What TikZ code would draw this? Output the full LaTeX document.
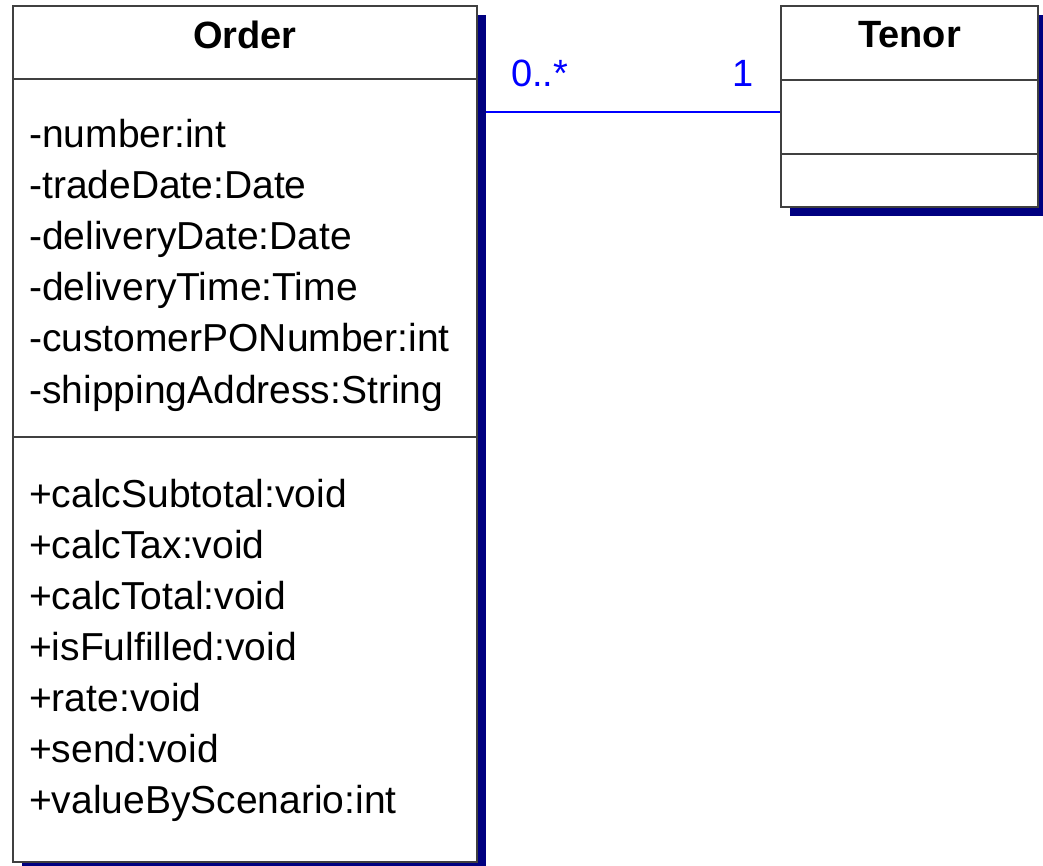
\documentclass[tikz,border=0pt]{standalone}
\usepackage{fontspec}
\setmainfont{Liberation Sans}
\usetikzlibrary{positioning}
\definecolor{shadownavy}{RGB}{0,0,128}
\definecolor{linkblue}{RGB}{0,0,255}

\begin{document}
\begin{tikzpicture}[x=1pt, y=-1pt,
        classbox/.style={draw=black!75, line width=1.5pt, fill=white, inner sep=0pt},
        shadowbox/.style={fill=shadownavy, draw=none, inner sep=0pt},
        member/.style={anchor=base west, inner sep=0pt, font=\fontsize{39}{46}\selectfont},
        title/.style={anchor=base, inner sep=0pt, font=\fontsize{38}{46}\selectfont\bfseries},
        mult/.style={anchor=base west, inner sep=0pt, text=linkblue, font=\fontsize{38}{46}\selectfont}
      ]
        \useasboundingbox (0,0) rectangle (1043,865);
        % association first, the shadow covers its end
        \coordinate (link) at (0,112);
        \node[shadowbox, minimum width=464pt, minimum height=856pt] (ordershadow) at (254,443) {};
        \node[shadowbox, minimum width=257pt, minimum height=201pt] (tenorshadow) at (918.5,115.5) {};
        \node[classbox, minimum width=464pt, minimum height=856pt] (order) at (245,434) {};
        \node[classbox, minimum width=257pt, minimum height=201pt] (tenor) at (909.5,106.5) {};
        \draw[linkblue, line width=1.3pt] (ordershadow.east |- link) -- (tenor.west |- link);
        \node[mult] (many) at (511,86) {0..*};
        \node[mult] (one) at (732,86) {1};

        % Order
        \node[title] (ordername) at (245,48) {Order};
        \draw[black!75, line width=1.5pt] (order.west |- 0,79) -- (order.east |- 0,79);
        \draw[black!75, line width=1.5pt] (order.west |- 0,437) -- (order.east |- 0,437);
        \node[member] (a1) at (29,147) {-number:int};
        \node[member] (a2) at (29,198.2) {-tradeDate:Date};
        \node[member] (a3) at (29,249.4) {-deliveryDate:Date};
        \node[member] (a4) at (29,300.6) {-deliveryTime:Time};
        \node[member] (a5) at (29,351.8) {-customerPONumber:int};
        \node[member] (a6) at (29,403) {-shippingAddress:String};
        \node[member] (m1) at (29,507) {+calcSubtotal:void};
        \node[member] (m2) at (29,558) {+calcTax:void};
        \node[member] (m3) at (29,609) {+calcTotal:void};
        \node[member] (m4) at (29,660) {+isFulfilled:void};
        \node[member] (m5) at (29,711) {+rate:void};
        \node[member] (m6) at (29,762) {+send:void};
        \node[member] (m7) at (29,813) {+valueByScenario:int};

        % Tenor
        \node[title] (tenorname) at (909.5,47) {Tenor};
        \draw[black!75, line width=1.5pt] (tenor.west |- 0,80) -- (tenor.east |- 0,80);
        \draw[black!75, line width=1.5pt] (tenor.west |- 0,154) -- (tenor.east |- 0,154);
      \end{tikzpicture}
\end{document}
